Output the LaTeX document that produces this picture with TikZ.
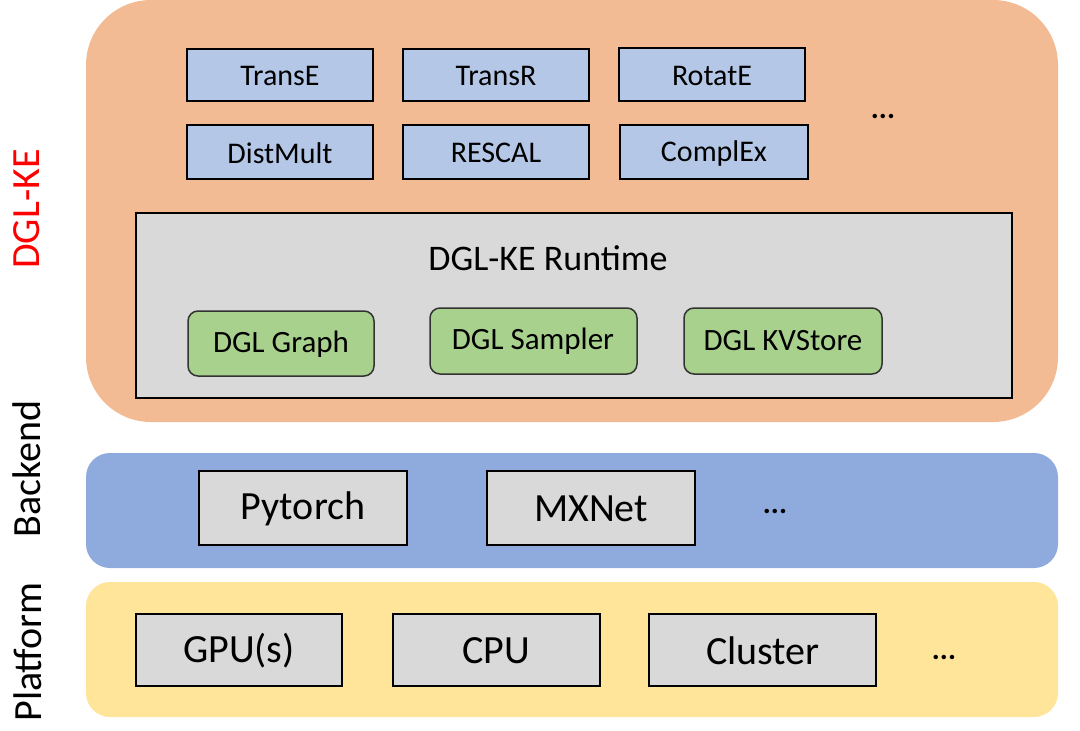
\documentclass[tikz,border=0pt]{standalone}
\usepackage{fontspec}
\setmainfont{Carlito}
\begin{document}
\begin{tikzpicture}[x=1pt,y=-1pt,
  model/.style={draw=black,line width=2.5pt,fill=modelblue,inner sep=0pt},
  rt/.style={draw=black,line width=2.5pt,fill=rtgray},
  dgl/.style={draw=black!80,line width=1.5pt,fill=dglgreen,rounded corners=10pt},
  plat/.style={draw=black,line width=2.5pt,fill=rtgray},
  side/.style={rotate=90,font=\fontsize{40}{40}\selectfont,anchor=center}]
\definecolor{orangebg}{HTML}{F2BB94}
\definecolor{bluebg}{HTML}{8FAADC}
\definecolor{yellowbg}{HTML}{FFE599}
\definecolor{modelblue}{HTML}{B4C7E7}
\definecolor{rtgray}{HTML}{D9D9D9}
\definecolor{dglgreen}{HTML}{A9D18E}
\definecolor{redlab}{HTML}{FF0000}
\useasboundingbox (0,0) rectangle (1080,731);
% layers
\fill[orangebg,rounded corners=65pt] (86,0) rectangle (1058,422);
\fill[bluebg,rounded corners=24pt] (86,453) rectangle (1058,568);
\fill[yellowbg,rounded corners=24pt] (86,582) rectangle (1058,717);
% side labels
\node[side,text=redlab] (lke) at (27,209) {DGL-KE};
\node[side] (lbe) at (27,469) {Backend};
\node[side] (lpf) at (28,652) {Platform};
% models
\begin{scope}[every node/.append style={font=\fontsize{30}{30}\selectfont}]
\draw[model] (187,49) rectangle (373,101); \node (transe) at (280,76) {TransE};
\draw[model] (403,49) rectangle (589,101); \node (transr) at (496,76) {TransR};
\draw[model] (619,48) rectangle (805,101); \node (rotate) at (712,76) {RotatE};
\draw[model] (187,125) rectangle (373,179); \node (distmult) at (280,153) {DistMult};
\draw[model] (403,125) rectangle (589,179); \node (rescal) at (496,153) {RESCAL};
\draw[model] (620,125) rectangle (808,179); \node (complex) at (714,153) {ComplEx};
\node (mdots) at (883,116) {\textbf{...}};
\end{scope}
% runtime
\draw[rt] (136,213) rectangle (1012,398);
\node[font=\fontsize{36}{36}\selectfont] (rttitle) at (548,258) {DGL-KE Runtime};
\begin{scope}[every node/.append style={font=\fontsize{31}{31}\selectfont}]
\draw[dgl] (188,311) rectangle (374,376); \node (graph) at (281,344) {DGL Graph};
\draw[dgl] (430,308) rectangle (637,374); \node (sampler) at (533,341) {DGL Sampler};
\draw[dgl] (684,308) rectangle (882,374); \node (kv) at (783,341) {DGL KVStore};
\end{scope}
% backend
\begin{scope}[every node/.append style={font=\fontsize{40}{40}\selectfont}]
\draw[plat] (199,471) rectangle (407,545); \node (pytorch) at (303,509) {Pytorch};
\draw[plat] (487,471) rectangle (695,545); \node (mxnet) at (591,509) {MXNet};
\node[font=\fontsize{30}{30}\selectfont] (bdots) at (775,511) {\textbf{...}};
% platform
\draw[plat] (136,614) rectangle (342,686); \node (gpu) at (239,651) {GPU(s)};
\draw[plat] (393,614) rectangle (600,686); \node (cpu) at (496,651) {CPU};
\draw[plat] (649,614) rectangle (876,686); \node (cluster) at (763,651) {Cluster};
\node[font=\fontsize{30}{30}\selectfont] (pdots) at (944,657) {\textbf{...}};
\end{scope}
\end{tikzpicture}
\end{document}
